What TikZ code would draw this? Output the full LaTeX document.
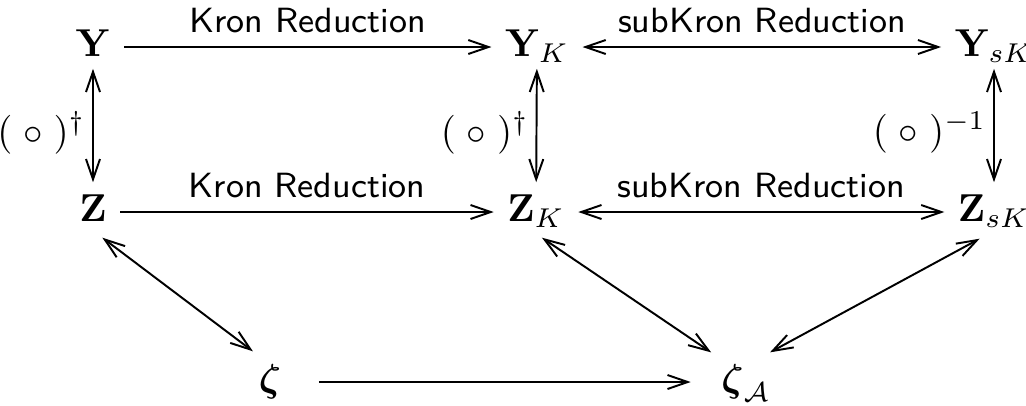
\documentclass[tikz,border=0pt]{standalone}
\usepackage{amsmath}
\usetikzlibrary{arrows.meta}
\begin{document}
\begin{tikzpicture}[x=0.257pt,y=-0.257pt,
  obj/.style={inner xsep=3.3pt, inner ysep=0.3pt, text height=7.2pt, text depth=2.2pt},
  tipb/.tip={Straight Barb[length=5.2pt,width=3.6pt]},
  arr/.style={line width=0.5pt, -tipb},
  darr/.style={line width=0.5pt, tipb-tipb},
  lbl/.style={above, font=\small\sffamily},
  vlbl/.style={left, inner sep=1.8pt, yshift=-0.8pt}]
\useasboundingbox (0,0) rectangle (1026,405);
\node[obj] (Y) at (93,47) {$\mathbf{Y}$};
\node[obj] (YK) at (537,47) {$\mathbf{Y}_{K}$};
\node[obj] (YsK) at (994,47) {$\mathbf{Y}_{sK}$};
\node[obj] (Z) at (93,212) {$\mathbf{Z}$};
\node[obj] (ZK) at (536,212) {$\mathbf{Z}_{K}$};
\node[obj] (ZsK) at (994,212) {$\mathbf{Z}_{sK}$};
\node[obj] (z) at (270,382) {$\boldsymbol{\zeta}$};
\node[obj] (zA) at (746,382) {$\boldsymbol{\zeta}_{\mathcal{A}}$};
\draw[arr] (Y) -- node[lbl]{Kron Reduction} (YK);
\draw[darr] (YK) -- node[lbl]{subKron Reduction} (YsK);
\draw[arr] (Z) -- node[lbl]{Kron Reduction} (ZK);
\draw[darr] (ZK) -- node[lbl]{subKron Reduction} (ZsK);
\draw[darr, shorten <=0.4pt, shorten >=2.45pt] (Y) -- node[vlbl]{$(\;\circ\;)^{\dagger}$} (Z);
\draw[darr, shorten <=0.4pt, shorten >=2.45pt] (YK) -- node[vlbl]{$(\;\circ\;)^{\dagger}$} (ZK);
\draw[darr, shorten <=0.4pt, shorten >=2.45pt] (YsK) -- node[vlbl]{$(\;\circ\;)^{-1}$} (ZsK);
\draw[darr, shorten <=2.33pt, shorten >=4.46pt] (Z.-84.7) -- (z.99.3);
\draw[darr, shorten <=2.5pt, shorten >=4.3pt] (ZK.-96.1) -- (zA.136.6);
\draw[darr, shorten <=3.5pt, shorten >=5.1pt] (ZsK.-97.6) -- (zA.72.6);
\draw[arr, shorten <=6.2pt, shorten >=4.4pt] (z) -- (zA);
\end{tikzpicture}
\end{document}
